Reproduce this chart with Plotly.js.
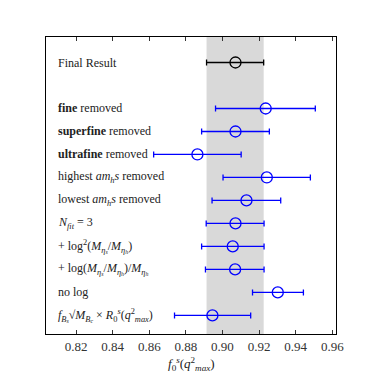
<!DOCTYPE html>
<html>
<head>
<meta charset="utf-8">
<script src="https://cdn.plot.ly/plotly-3.0.1.min.js"></script>
<style>
  html, body { margin: 0; padding: 0; background: #fff; }
  #graph { width: 374px; height: 372px; }
</style>
</head>
<body>
<div id="graph"></div>
<script>
// data
var labels = [
    'Final Result',
    '<b>fine</b> removed',
    '<b>superfine</b> removed',
    '<b>ultrafine</b> removed',
    'highest <i>am<sub>h</sub>s</i> removed',
    'lowest <i>am<sub>h</sub>s</i> removed',
    '<i>N<sub>fit</sub></i> = 3',
    '+ log<sup>2</sup>(<i>M<sub>η<sub>s</sub></sub></i>/<i>M<sub>η<sub>h</sub></sub></i>)',
    '+ log(<i>M<sub>η<sub>s</sub></sub></i>/<i>M<sub>η<sub>h</sub></sub></i>)/<i>M<sub>η<sub>h</sub></sub></i>',
    'no log',
    '<i>f<sub>B<sub>s</sub></sub></i>√<i>M<sub>B<sub>c</sub></sub></i> × <i>R</i><sub>0</sub><sup><i>s</i></sup>(<i>q</i><sup>2</sup><sub><i>max</i></sub>)'
];
var rows = [0, 2, 3, 4, 5, 6, 7, 8, 9, 10, 11];
var centre = [0.9071, 0.9236, 0.9071, 0.8863, 0.9242, 0.9131, 0.9071, 0.9056, 0.9069, 0.9302, 0.8945];
var low    = [0.8913, 0.8962, 0.8886, 0.8624, 0.9003, 0.8943, 0.8911, 0.8886, 0.8907, 0.9164, 0.8738];
var high   = [0.9225, 0.9507, 0.9256, 0.9102, 0.9480, 0.9318, 0.9227, 0.9227, 0.9227, 0.9442, 0.9154];
var tickVals = [0.82, 0.84, 0.86, 0.88, 0.90, 0.92, 0.94, 0.96];
var xTitle = '<i>f</i><sub>0</sub><sup><i>s</i></sup>(<i>q</i><sup>2</sup><sub><i>max</i></sub>)';

var serif = 'Liberation Serif';

var errPlus = centre.map(function(c, i) { return high[i] - c; });
var errMinus = centre.map(function(c, i) { return c - low[i]; });

function trace(idx, colour) {
    return {
        type: 'scatter',
        mode: 'markers',
        x: idx.map(function(i) { return centre[i]; }),
        y: idx.map(function(i) { return rows[i]; }),
        marker: {symbol: 'circle-open', size: 11, color: colour, line: {width: 1.3, color: colour}},
        error_x: {
            type: 'data', symmetric: false,
            array: idx.map(function(i) { return errPlus[i]; }),
            arrayminus: idx.map(function(i) { return errMinus[i]; }),
            color: colour, thickness: 1.3, width: 3
        },
        showlegend: false,
        hoverinfo: 'skip'
    };
}

var finalTrace = trace([0], 'black');
var others = trace([1, 2, 3, 4, 5, 6, 7, 8, 9, 10], '#0000ff');

var annotations = labels.map(function(t, i) {
    return {
        xref: 'paper', yref: 'y', x: 0.034, y: rows[i],
        xanchor: 'left', yanchor: 'middle',
        text: t, showarrow: false,
        font: {family: serif, size: 12, color: '#222'}
    };
});
// axis title as annotation, just under the tick labels
annotations.push({
    xref: 'paper', yref: 'paper', x: 0.5, y: -0.1,
    xanchor: 'center', yanchor: 'middle',
    text: xTitle, showarrow: false,
    font: {family: serif, size: 13, color: '#222'}
});

var layout = {
    width: 374, height: 372,
    margin: {l: 46, r: 38, t: 37, b: 38},
    paper_bgcolor: 'white',
    plot_bgcolor: 'white',
    font: {family: serif, size: 12, color: '#333'},
    xaxis: {
        range: [0.8036, 0.962],
        tickvals: tickVals,
        ticktext: tickVals.map(function(v) { return v.toFixed(2); }),
        ticks: 'inside', ticklen: 4, tickcolor: '#333',
        showgrid: false, zeroline: false,
        showline: true, linecolor: 'black', linewidth: 1, mirror: 'ticks',
        tickfont: {family: serif, size: 13, color: '#333'}
    },
    yaxis: {
        range: [11.81, -1.11],
        showticklabels: false, ticks: '',
        showgrid: false, zeroline: false,
        showline: true, linecolor: 'black', linewidth: 1, mirror: true
    },
    shapes: [{
        type: 'rect', xref: 'x', yref: 'paper',
        x0: low[0], x1: high[0], y0: 0, y1: 1,
        fillcolor: '#d9d9d9', line: {width: 0}, layer: 'below'
    }],
    annotations: annotations
};

Plotly.newPlot('graph', [finalTrace, others], layout, {staticPlot: true});
</script>
</body>
</html>
